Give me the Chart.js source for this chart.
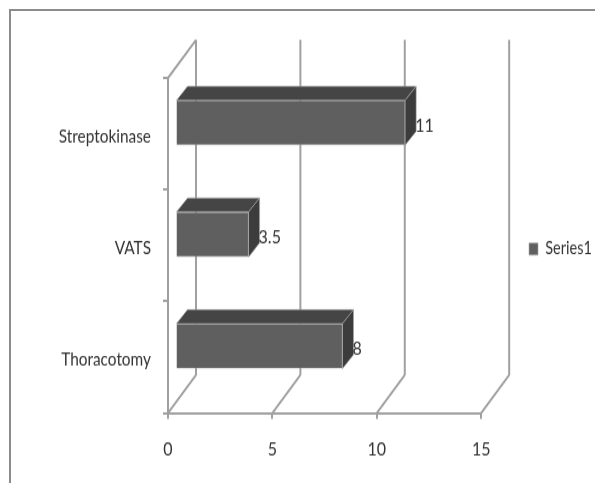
<!DOCTYPE html>
<html>
<head>
<meta charset="utf-8">
<style>
  html, body { margin: 0; padding: 0; background: #fff; }
  #wrap { position: relative; width: 595px; height: 483px; overflow: hidden; }
  #frame { position: absolute; left: 9px; top: 9px; width: 600px; height: 500px;
           border-left: 2px solid #8c8c8c; border-top: 2px solid #8c8c8c; }
  /* the original picture is stretched vertically and soft, so do the same to the canvas */
  canvas { position: absolute; left: 0; top: 0; transform-origin: 0 0; transform: scale(1, 1.1985); filter: blur(0.35px); }
</style>
<script src="https://cdn.jsdelivr.net/npm/chart.js@4/dist/chart.umd.js"></script>
</head>
<body>
<div id="wrap">
  <div id="frame"></div>
  <canvas id="chart" width="595" height="403"></canvas>
</div>
<script>
const categories = ['Streptokinase', 'VATS', 'Thoracotomy'];
const values = [11, 3.5, 8];
const valueLabels = ['11', '3.5', '8'];
const seriesName = 'Series1';
const xTicks = [0, 5, 10, 15];

const FONT = 'Lato, sans-serif';
const TEXT = '#333333';
const LINE = '#a0a0a0';
const EDGE = '#a8a8a8';
const SY = 1.1985;

// 3D depth of the walls and of the bars (picture pixels, y undone by SY)
const WALL_DX = 28, WALL_DY = 38 / SY;
const BAR_OFF_X = 7.5, BAR_OFF_Y = 11 / SY;
const BAR_DX = 11, BAR_DY = 14 / SY;

function seg(ctx, x1, y1, x2, y2) {
    ctx.beginPath();
    ctx.moveTo(x1, y1);
    ctx.lineTo(x2, y2);
    ctx.stroke();
}

const fake3d = {
    id: 'fake3d',
    afterLayout(chart) {
        // legend sits off to the right, centred on the back wall
        const lg = chart.legend;
        const h = lg.bottom - lg.top;
        lg.left = 524;
        lg.right = lg.left + lg.width;
        lg.top = 249 / SY - h / 2;
        lg.bottom = lg.top + h;
    },
    beforeDatasetsDraw(chart) {
        // walls behind the bars
        const ctx = chart.ctx, x = chart.scales.x, area = chart.chartArea;
        ctx.save();
        ctx.strokeStyle = LINE;
        ctx.lineWidth = 2;
        xTicks.forEach(t => {
            const px = x.getPixelForValue(t);
            seg(ctx, px, area.bottom, px + WALL_DX, area.bottom - WALL_DY);
            seg(ctx, px + WALL_DX, area.bottom - WALL_DY, px + WALL_DX, area.top - WALL_DY);
        });
        const px0 = x.getPixelForValue(0);
        seg(ctx, px0, area.top, px0 + WALL_DX, area.top - WALL_DY);
        ctx.restore();
    },
    beforeDatasetDraw(chart) {
        chart.ctx.save();
        chart.ctx.translate(BAR_OFF_X, -BAR_OFF_Y);
    },
    afterDatasetDraw(chart) {
        const ctx = chart.ctx;
        // top and side faces, still in the shifted coordinates
        chart.getDatasetMeta(0).data.forEach(bar => {
            const top = bar.y - bar.height / 2, bot = bar.y + bar.height / 2;
            ctx.strokeStyle = EDGE;
            ctx.lineWidth = 0.6;
            ctx.fillStyle = '#454545';
            ctx.beginPath();
            ctx.moveTo(bar.base, top);
            ctx.lineTo(bar.base + BAR_DX, top - BAR_DY);
            ctx.lineTo(bar.x + BAR_DX, top - BAR_DY);
            ctx.lineTo(bar.x, top);
            ctx.closePath();
            ctx.fill();
            ctx.stroke();
            ctx.fillStyle = '#3c3c3c';
            ctx.beginPath();
            ctx.moveTo(bar.x, top);
            ctx.lineTo(bar.x + BAR_DX, top - BAR_DY);
            ctx.lineTo(bar.x + BAR_DX, bot - BAR_DY);
            ctx.lineTo(bar.x, bot);
            ctx.closePath();
            ctx.fill();
            ctx.stroke();
        });
        ctx.restore();
        // value labels
        ctx.save();
        ctx.font = '16px ' + FONT;
        ctx.fillStyle = TEXT;
        ctx.textBaseline = 'middle';
        chart.getDatasetMeta(0).data.forEach((bar, i) => {
            ctx.fillText(valueLabels[i], bar.x + BAR_OFF_X + 10, bar.y - BAR_OFF_Y + 2);
        });
        ctx.restore();
    }
};

new Chart(document.getElementById('chart'), {
    type: 'bar',
    data: {
        labels: categories,
        datasets: [{
            label: seriesName,
            data: values,
            backgroundColor: '#5f5f5f',
            borderColor: EDGE,
            borderWidth: 0.6,
            categoryPercentage: 1,
            barPercentage: 0.403
        }]
    },
    plugins: [fake3d],
    options: {
        indexAxis: 'y',
        responsive: false,
        animation: false,
        clip: false,
        layout: { padding: { top: 65, right: 36, left: 0, bottom: 0 } },
        plugins: {
            tooltip: { enabled: false },
            legend: {
                position: 'right',
                labels: {
                    boxWidth: 9,
                    boxHeight: 10,
                    padding: 5,
                    color: TEXT,
                    font: { family: FONT, size: 14.5 }
                }
            }
        },
        scales: {
            x: {
                min: 0,
                max: 15,
                afterTickToLabelConversion(s) {
                    s.ticks = xTicks.map(v => ({ value: v, label: String(v) }));
                },
                afterFit(s) { s.height = 70 / SY; },
                border: { color: LINE, width: 2 },
                grid: { drawOnChartArea: false, color: LINE, lineWidth: 2, tickLength: 5 },
                ticks: { color: TEXT, padding: 15.5, maxRotation: 0, font: { family: FONT, size: 16 } }
            },
            y: {
                afterFit(s) { s.width = 168; },
                border: { color: LINE, width: 2 },
                grid: { drawOnChartArea: false, color: LINE, lineWidth: 2, tickLength: 5 },
                ticks: { color: TEXT, padding: 12, labelOffset: 2, font: { family: FONT, size: 15.4 } }
            }
        }
    }
});
</script>
</body>
</html>
